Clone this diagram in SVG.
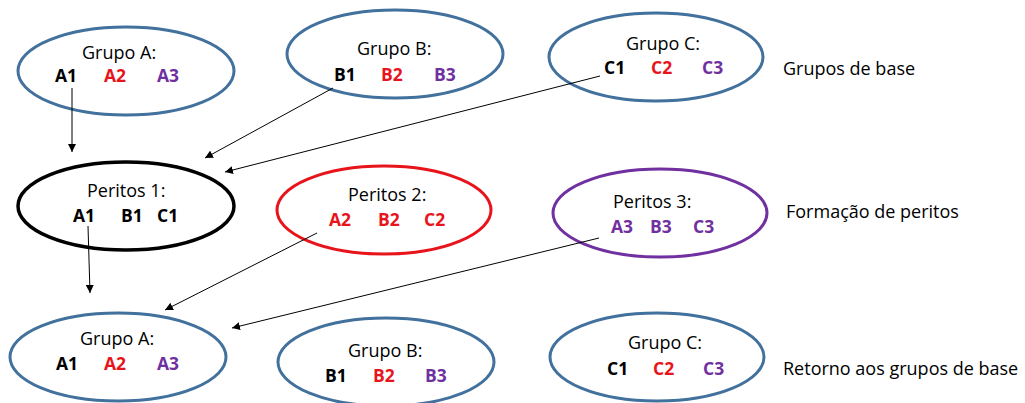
<svg xmlns="http://www.w3.org/2000/svg" width="1025" height="403" viewBox="0 0 1025 403">
<defs>
<style>
text{font-family:"Open Sans","Liberation Sans",sans-serif;font-size:18px;fill:#000}
.b{font-weight:bold;font-size:17.5px}
.r{fill:#E8141B}
.p{fill:#7030A0}
.eb{fill:none;stroke:#41719C;stroke-width:3}
.ek{fill:none;stroke:#000;stroke-width:3.5}
.er{fill:none;stroke:#E8141B;stroke-width:3}
.ep{fill:none;stroke:#7030A0;stroke-width:3}
.c line{stroke:#000;stroke-width:1;marker-end:url(#ah)}
</style>
<marker id="ah" viewBox="0 0 10 10" refX="10" refY="5" markerWidth="8" markerHeight="8" markerUnits="userSpaceOnUse" orient="auto">
<path d="M0,0 L10,5 L0,10 z" fill="#000"/>
</marker>
</defs>
<rect width="1025" height="403" fill="#fff"/>

<g id="grupoA-top">
<ellipse class="eb" cx="126" cy="71" rx="108" ry="44"/>
<text x="82" y="59">Grupo A:</text>
<text class="b" x="55" y="82">A1</text>
<text class="b r" x="104" y="82">A2</text>
<text class="b p" x="157" y="82">A3</text>
</g>
<g id="grupoB-top">
<ellipse class="eb" cx="395" cy="54" rx="108" ry="44"/>
<text x="357" y="55">Grupo B:</text>
<text class="b" x="334" y="81">B1</text>
<text class="b r" x="381" y="81">B2</text>
<text class="b p" x="434" y="81">B3</text>
</g>
<g id="grupoC-top">
<ellipse class="eb" cx="656" cy="57" rx="107" ry="44"/>
<text x="626" y="50">Grupo C:</text>
<text class="b" x="604" y="74">C1</text>
<text class="b r" x="651" y="74">C2</text>
<text class="b p" x="702" y="74">C3</text>
</g>
<g id="label-base">
<text x="783" y="75">Grupos de base</text>
</g>

<g id="peritos1">
<ellipse class="ek" cx="126" cy="206" rx="108" ry="44"/>
<text x="87" y="197">Peritos 1:</text>
<text class="b" x="73" y="222">A1</text>
<text class="b" x="121" y="222">B1</text>
<text class="b" x="157" y="222">C1</text>
</g>
<g id="peritos2">
<ellipse class="er" cx="384" cy="210" rx="107" ry="44"/>
<text x="348" y="201">Peritos 2:</text>
<text class="b r" x="329" y="226">A2</text>
<text class="b r" x="378" y="226">B2</text>
<text class="b r" x="424" y="226">C2</text>
</g>
<g id="peritos3">
<ellipse class="ep" cx="660" cy="213" rx="107" ry="44"/>
<text x="613" y="208">Peritos 3:</text>
<text class="b p" x="611" y="233">A3</text>
<text class="b p" x="650" y="233">B3</text>
<text class="b p" x="693" y="233">C3</text>
</g>
<g id="label-peritos">
<text x="786" y="218">Formação de peritos</text>
</g>

<g id="grupoA-bottom">
<ellipse class="eb" cx="118" cy="357" rx="108" ry="44"/>
<text x="80" y="345">Grupo A:</text>
<text class="b" x="56" y="370">A1</text>
<text class="b r" x="104" y="370">A2</text>
<text class="b p" x="157" y="370">A3</text>
</g>
<g id="grupoB-bottom">
<ellipse class="eb" cx="386" cy="362" rx="108" ry="44"/>
<text x="348" y="357">Grupo B:</text>
<text class="b" x="325" y="382">B1</text>
<text class="b r" x="373" y="382">B2</text>
<text class="b p" x="425" y="382">B3</text>
</g>
<g id="grupoC-bottom">
<ellipse class="eb" cx="657" cy="357" rx="107" ry="44"/>
<text x="628" y="349">Grupo C:</text>
<text class="b" x="607" y="375">C1</text>
<text class="b r" x="653" y="375">C2</text>
<text class="b p" x="703" y="375">C3</text>
</g>
<g id="label-retorno">
<text x="783" y="375">Retorno aos grupos de base</text>
</g>

<g id="connectors" class="c">
<line x1="72" y1="88" x2="72" y2="152"/>
<line x1="333" y1="88" x2="205" y2="158"/>
<line x1="600" y1="76" x2="225" y2="172"/>
<line x1="88" y1="226" x2="90" y2="293"/>
<line x1="317" y1="233" x2="165" y2="310"/>
<line x1="599" y1="238" x2="232" y2="328"/>
</g>
</svg>
